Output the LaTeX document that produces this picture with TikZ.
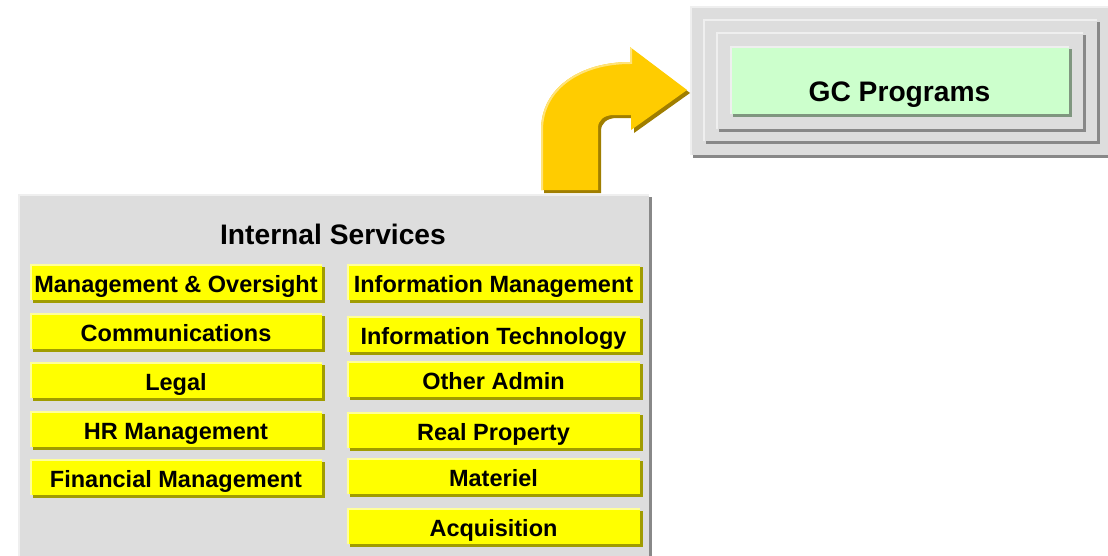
\documentclass[tikz,border=0pt]{standalone}
\usepackage{fontspec}
\setmainfont{Liberation Sans}
\usetikzlibrary{shadows}
\definecolor{panelgray}{HTML}{DDDDDD}
\definecolor{panellight}{HTML}{EFEFEF}
\definecolor{panelshade}{HTML}{888888}
\definecolor{boxyellow}{HTML}{FFFF00}
\definecolor{boxlight}{HTML}{FFFF99}
\definecolor{boxshade}{HTML}{A09C00}
\definecolor{gcgreen}{HTML}{CCFFCC}
\definecolor{gcshade}{HTML}{7F967F}
\definecolor{arrowfill}{HTML}{FFCC00}
\definecolor{arrowlight}{HTML}{FFE37A}
\definecolor{arrowshade}{HTML}{A07E00}
\tikzset{
  lit/.style={path picture={\draw[#1,line width=4pt] (path picture bounding box.south west) -- (path picture bounding box.north west) -- (path picture bounding box.north east);}},
  raised/.style={general shadow={shadow xshift=3pt,shadow yshift=-3pt,fill=#1}},
  frame/.style={fill=panelgray,raised=panelshade,lit=panellight},
  svcbox/.style={rectangle,fill=boxyellow,raised=boxshade,lit=boxlight,minimum width=292pt,minimum height=36pt,inner sep=0pt,text height=21pt,text depth=0pt,font=\bfseries\fontsize{23.5}{23.5}\selectfont},
}
\def\bendarrow{(541,190) -- (541,130) .. controls (541,88) and (580,62) .. (630,62) -- (630,47) -- (687,90) -- (631,130) -- (631,115) -- (614,115) .. controls (604,115) and (598,120) .. (598,128) -- (598,190) -- cycle}
\begin{document}
\begin{tikzpicture}[x=1pt,y=-1pt]
\useasboundingbox (0,0) rectangle (1108,555);
% GC side
\path[frame] (690,6) rectangle (1112,155);
\path[frame] (703,19) rectangle (1097,141);
\path[frame] (716,32) rectangle (1083,129);
\node[rectangle,fill=gcgreen,raised=gcshade,lit=panellight,minimum width=339pt,minimum height=68pt,inner sep=0pt,text height=43pt,text depth=0pt,font=\bfseries\fontsize{28.2}{28.2}\selectfont] (gc) at (899.5,80) {GC Programs};
% turn arrow
\fill[arrowshade,shift={(3,3)}] \bendarrow;
\fill[arrowfill] \bendarrow;
\begin{scope}
\clip \bendarrow;
\draw[arrowlight,line width=4pt] (541,192) -- (541,130) .. controls (541,88) and (580,62) .. (630,62) -- (630,47);
\end{scope}
% internal services
\path[frame] (18,194) rectangle (649,558);
\node[font=\bfseries\fontsize{28.2}{28.2}\selectfont] (is) at (333,234) {Internal Services};
\node[svcbox] (mgmt) at (176,282) {Management \& Oversight};
\node[svcbox] (comm) at (176,331) {Communications};
\node[svcbox] (legal) at (176,380) {Legal};
\node[svcbox] (hr) at (176,429) {HR Management};
\node[svcbox] (fin) at (176,477) {Financial Management};
\node[svcbox,minimum width=293pt] (im) at (493.5,282) {Information Management};
\node[svcbox,minimum width=293pt] (it) at (493.5,334) {Information Technology};
\node[svcbox,minimum width=293pt] (admin) at (493.5,379) {Other Admin};
\node[svcbox,minimum width=293pt] (rp) at (493.5,430) {Real Property};
\node[svcbox,minimum width=293pt] (mat) at (493.5,476) {Materiel};
\node[svcbox,minimum width=293pt] (acq) at (493.5,526) {Acquisition};
\end{tikzpicture}
\end{document}
